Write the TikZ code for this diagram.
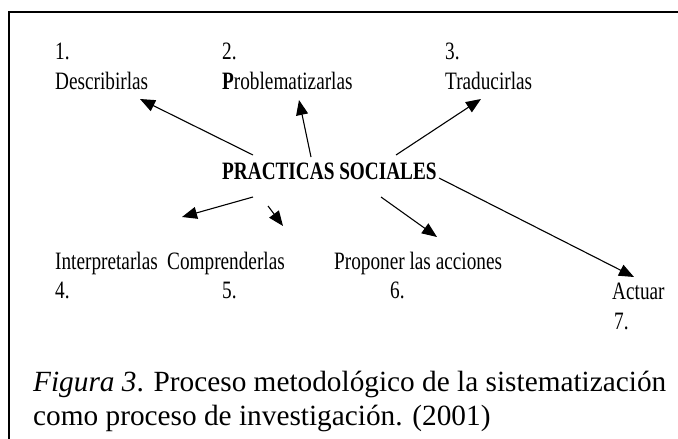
\documentclass[tikz,border=0pt]{standalone}
\usepackage{fontspec}
\setmainfont{Liberation Serif}
\newfontfamily\condfont[FakeStretch=0.77]{Liberation Serif}
\usetikzlibrary{arrows.meta}
\tikzset{
  lbl/.style={anchor=base west, inner sep=0pt, font=\condfont\fontsize{25}{27}\selectfont},
  captxt/.style={anchor=base west, inner sep=0pt, font=\fontsize{29.3}{34}\selectfont},
  arr/.style={line width=1.1pt, -{Triangle[length=15pt,width=12pt]}},
  frame/.style={line width=1.6pt}
}
\begin{document}
\begin{tikzpicture}[x=1pt,y=-1pt]
\useasboundingbox (0,0) rectangle (678,439);
% frame (top and left only visible)
\coordinate (fa) at (9,439);
\coordinate (fb) at (9,12);
\coordinate (fc) at (678,12);
\draw[frame] (fa) -- (fb) -- (fc);
% top row
\node[lbl] (n1) at (55,59) {1.};
\node[lbl] (l1) at (55,89) {Describirlas};
\node[lbl] (n2) at (222,59) {2.};
\node[lbl] (l2) at (222,89) {\textbf{P}roblematizarlas};
\node[lbl] (n3) at (445,59) {3.};
\node[lbl] (l3) at (445,89) {Traducirlas};
% centre
\node[lbl, font=\condfont\fontsize{25}{27}\selectfont\bfseries] (ps) at (222,179) {PRACTICAS SOCIALES};
% bottom row
\node[lbl] (l4) at (55,269) {Interpretarlas};
\node[lbl] (n4) at (55,298) {4.};
\node[lbl] (l5) at (167,269) {Comprenderlas};
\node[lbl] (n5) at (222,298) {5.};
\node[lbl] (l6) at (334,269) {Proponer las acciones};
\node[lbl] (n6) at (390,298) {6.};
\node[lbl] (l7) at (612,299) {Actuar};
\node[lbl] (n7) at (614,329) {7.};
% caption
\node[captxt] (c1) at (33,391) {\textit{Figura 3}. Proceso metodológico de la sistematización};
\node[captxt] (c2) at (33,425) {como proceso de investigación. (2001)};
% arrow end points
\coordinate (s1) at (253,155); \coordinate (t1) at (140,99);
\coordinate (s2) at (311,157); \coordinate (t2) at (299,100);
\coordinate (s3) at (396,155); \coordinate (t3) at (481,99);
\coordinate (s4) at (253,197); \coordinate (t4) at (182,217);
\coordinate (s5) at (268,206); \coordinate (t5) at (283,226);
\coordinate (s6) at (381,197); \coordinate (t6) at (437,237);
\coordinate (s7) at (439,178); \coordinate (t7) at (634,277);
\draw[arr] (s1) -- (t1);
\draw[arr] (s2) -- (t2);
\draw[arr] (s3) -- (t3);
\draw[arr] (s4) -- (t4);
\draw[arr] (s5) -- (t5);
\draw[arr] (s6) -- (t6);
\draw[arr] (s7) -- (t7);
\end{tikzpicture}
\end{document}
